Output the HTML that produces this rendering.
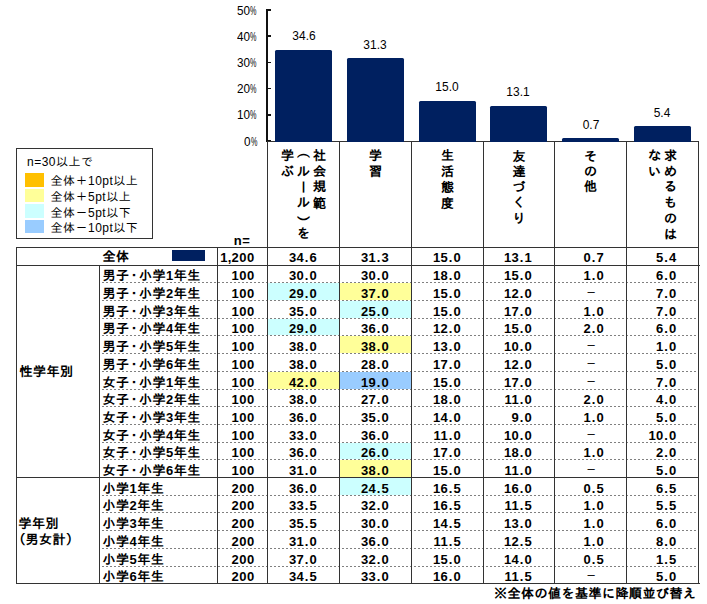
<!DOCTYPE html>
<html lang="ja"><head><meta charset="utf-8"><title>chart</title>
<style>
html,body{margin:0;padding:0;background:#fff;}
body{width:707px;height:604px;position:relative;overflow:hidden;font-family:"Liberation Sans", "IPAGothic", sans-serif;color:#000;}
body div, body span{position:absolute;}
span{white-space:nowrap;}
i{font-style:normal;position:static;}
.ax{font-family:"Liberation Sans", sans-serif;font-size:13.5px;line-height:15px;transform:scaleX(0.867);transform-origin:100% 50%;}
.pc{display:inline-block;transform:scaleX(0.62);transform-origin:0 50%;margin-right:-4.4px;}
.vl{font-family:"Liberation Sans", sans-serif;font-size:13px;line-height:15px;width:60px;text-align:center;transform:scaleX(0.92);}
.lg{font-size:12px;line-height:15px;letter-spacing:0.5px;}
.b13{font-size:13px;line-height:17px;font-weight:bold;letter-spacing:0.5px;}
.num{letter-spacing:0.5px;}
.pd{margin:0 0.5px;}
.cm{margin:0 -0.3px;}
.nd{margin:0 -2px;}
.lp{margin-left:-6px;margin-right:-0.5px;}
.vp1{position:relative;top:-4px;}
.vp2{position:relative;top:3.5px;}
.dsh{font-size:13px;line-height:17px;font-family:"Liberation Sans", sans-serif;}
.dl{height:1px;background-image:linear-gradient(to right,transparent 50%,#808080 50%);background-size:4px 1px;}
.vt{display:flex;justify-content:center;align-items:flex-start;}
.vt div{position:static;writing-mode:vertical-rl;font-size:13px;font-weight:bold;line-height:16px;letter-spacing:2.7px;}
</style></head><body>
<span class="ax" style="right:450.2px;top:2.50px">50<i class="pc">%</i></span>
<div style="left:266.00px;top:9.25px;width:5.00px;height:1.50px;background:#111;"></div>
<span class="ax" style="right:450.2px;top:28.70px">40<i class="pc">%</i></span>
<div style="left:266.00px;top:35.45px;width:5.00px;height:1.50px;background:#111;"></div>
<span class="ax" style="right:450.2px;top:54.90px">30<i class="pc">%</i></span>
<div style="left:266.00px;top:61.65px;width:5.00px;height:1.50px;background:#111;"></div>
<span class="ax" style="right:450.2px;top:81.10px">20<i class="pc">%</i></span>
<div style="left:266.00px;top:87.85px;width:5.00px;height:1.50px;background:#111;"></div>
<span class="ax" style="right:450.2px;top:107.30px">10<i class="pc">%</i></span>
<div style="left:266.00px;top:114.05px;width:5.00px;height:1.50px;background:#111;"></div>
<span class="ax" style="right:450.2px;top:133.50px">0<i class="pc">%</i></span>
<div style="left:266.00px;top:140.25px;width:5.00px;height:1.50px;background:#111;"></div>
<div style="left:266.00px;top:9.25px;width:1.50px;height:131.75px;background:#111;"></div>
<div style="left:275.40px;top:49.65px;width:56.80px;height:92.35px;background:#002060;border-radius:1.5px 1.5px 0 0;z-index:2"></div>
<span class="vl" style="left:273.80px;top:28.05px">34.6</span>
<div style="left:347.00px;top:58.29px;width:56.80px;height:83.71px;background:#002060;border-radius:1.5px 1.5px 0 0;z-index:2"></div>
<span class="vl" style="left:345.40px;top:36.69px">31.3</span>
<div style="left:419.00px;top:101.00px;width:56.80px;height:41.00px;background:#002060;border-radius:1.5px 1.5px 0 0;z-index:2"></div>
<span class="vl" style="left:417.40px;top:79.40px">15.0</span>
<div style="left:490.00px;top:105.98px;width:56.80px;height:36.02px;background:#002060;border-radius:1.5px 1.5px 0 0;z-index:2"></div>
<span class="vl" style="left:488.40px;top:84.38px">13.1</span>
<div style="left:562.20px;top:138.47px;width:56.80px;height:3.53px;background:#002060;border-radius:1.5px 1.5px 0 0;z-index:2"></div>
<span class="vl" style="left:560.60px;top:116.87px">0.7</span>
<div style="left:634.00px;top:126.15px;width:56.80px;height:15.85px;background:#002060;border-radius:1.5px 1.5px 0 0;z-index:2"></div>
<span class="vl" style="left:632.40px;top:104.55px">5.4</span>
<div class="vt" style="left:267px;top:148px;width:72px;height:99px"><div>社会規範<br><i class="vp1">（</i>ルール<i class="vp2">）</i>を<br>学ぶ</div></div>
<div class="vt" style="left:339px;top:148px;width:72px;height:99px"><div>学習</div></div>
<div class="vt" style="left:411px;top:148px;width:72px;height:99px"><div>生活態度</div></div>
<div class="vt" style="left:483px;top:148px;width:71px;height:99px"><div>友達づくり</div></div>
<div class="vt" style="left:554px;top:148px;width:72px;height:99px"><div>その他</div></div>
<div class="vt" style="left:626px;top:148px;width:72px;height:99px"><div>求めるものは<br>ない</div></div>
<div style="left:16px;top:148px;width:135px;height:89px;border:1px solid #333"></div>
<span class="lg" style="left:27px;top:154.5px">n=30以上で</span>
<div style="left:25.00px;top:173.20px;width:19.00px;height:13.60px;background:#FFC000;"></div>
<span class="lg" style="left:50.5px;top:174.40px">全体＋10pt以上</span>
<div style="left:25.00px;top:188.75px;width:19.00px;height:13.60px;background:#FFFF99;"></div>
<span class="lg" style="left:50.5px;top:189.95px">全体＋5pt以上</span>
<div style="left:25.00px;top:204.30px;width:19.00px;height:13.60px;background:#CCFFFF;"></div>
<span class="lg" style="left:50.5px;top:205.50px">全体－5pt以下</span>
<div style="left:25.00px;top:219.85px;width:19.00px;height:13.60px;background:#99CCFF;"></div>
<span class="lg" style="left:50.5px;top:221.05px">全体－10pt以下</span>
<span class="b13" style="left:233.80px;top:232.30px;">n=</span>
<span class="b13" style="left:102.50px;top:248.10px;">全体</span>
<span class="b13 num" style="right:452.20px;top:248.90px;">1<i class="cm">,</i>200</span>
<span class="b13 num" style="right:389.80px;top:248.90px;">34<i class="pd">.</i>6</span>
<span class="b13 num" style="right:317.80px;top:248.90px;">31<i class="pd">.</i>3</span>
<span class="b13 num" style="right:245.80px;top:248.90px;">15<i class="pd">.</i>0</span>
<span class="b13 num" style="right:174.80px;top:248.90px;">13<i class="pd">.</i>1</span>
<span class="b13 num" style="right:102.80px;top:248.90px;">0<i class="pd">.</i>7</span>
<span class="b13 num" style="right:30.30px;top:248.90px;">5<i class="pd">.</i>4</span>
<div style="left:172.00px;top:250.00px;width:33.00px;height:11.00px;background:#002060;"></div>
<span class="b13" style="left:102.50px;top:267.00px;">男子<i class="nd">・</i>小学1年生</span>
<span class="b13 num" style="right:452.20px;top:266.60px;">100</span>
<span class="b13 num" style="right:389.80px;top:266.60px;">30<i class="pd">.</i>0</span>
<span class="b13 num" style="right:317.80px;top:266.60px;">30<i class="pd">.</i>0</span>
<span class="b13 num" style="right:245.80px;top:266.60px;">18<i class="pd">.</i>0</span>
<span class="b13 num" style="right:174.80px;top:266.60px;">15<i class="pd">.</i>0</span>
<span class="b13 num" style="right:102.80px;top:266.60px;">1<i class="pd">.</i>0</span>
<span class="b13 num" style="right:30.30px;top:266.60px;">6<i class="pd">.</i>0</span>
<span class="b13" style="left:102.50px;top:285.00px;">男子<i class="nd">・</i>小学2年生</span>
<span class="b13 num" style="right:452.20px;top:284.60px;">100</span>
<div style="left:268.00px;top:283.00px;width:71.00px;height:17.00px;background:#CCFFFF;"></div>
<span class="b13 num" style="right:389.80px;top:284.60px;">29<i class="pd">.</i>0</span>
<div style="left:340.00px;top:283.00px;width:71.00px;height:17.00px;background:#FFFF99;"></div>
<span class="b13 num" style="right:317.80px;top:284.60px;">37<i class="pd">.</i>0</span>
<span class="b13 num" style="right:245.80px;top:284.60px;">15<i class="pd">.</i>0</span>
<span class="b13 num" style="right:174.80px;top:284.60px;">12<i class="pd">.</i>0</span>
<span class="dsh" style="right:112.20px;top:283.00px;">–</span>
<span class="b13 num" style="right:30.30px;top:284.60px;">7<i class="pd">.</i>0</span>
<span class="b13" style="left:102.50px;top:303.00px;">男子<i class="nd">・</i>小学3年生</span>
<span class="b13 num" style="right:452.20px;top:302.60px;">100</span>
<span class="b13 num" style="right:389.80px;top:302.60px;">35<i class="pd">.</i>0</span>
<div style="left:340.00px;top:301.00px;width:71.00px;height:17.00px;background:#CCFFFF;"></div>
<span class="b13 num" style="right:317.80px;top:302.60px;">25<i class="pd">.</i>0</span>
<span class="b13 num" style="right:245.80px;top:302.60px;">15<i class="pd">.</i>0</span>
<span class="b13 num" style="right:174.80px;top:302.60px;">17<i class="pd">.</i>0</span>
<span class="b13 num" style="right:102.80px;top:302.60px;">1<i class="pd">.</i>0</span>
<span class="b13 num" style="right:30.30px;top:302.60px;">7<i class="pd">.</i>0</span>
<span class="b13" style="left:102.50px;top:320.00px;">男子<i class="nd">・</i>小学4年生</span>
<span class="b13 num" style="right:452.20px;top:319.60px;">100</span>
<div style="left:268.00px;top:319.00px;width:71.00px;height:16.00px;background:#CCFFFF;"></div>
<span class="b13 num" style="right:389.80px;top:319.60px;">29<i class="pd">.</i>0</span>
<span class="b13 num" style="right:317.80px;top:319.60px;">36<i class="pd">.</i>0</span>
<span class="b13 num" style="right:245.80px;top:319.60px;">12<i class="pd">.</i>0</span>
<span class="b13 num" style="right:174.80px;top:319.60px;">15<i class="pd">.</i>0</span>
<span class="b13 num" style="right:102.80px;top:319.60px;">2<i class="pd">.</i>0</span>
<span class="b13 num" style="right:30.30px;top:319.60px;">6<i class="pd">.</i>0</span>
<span class="b13" style="left:102.50px;top:338.00px;">男子<i class="nd">・</i>小学5年生</span>
<span class="b13 num" style="right:452.20px;top:337.60px;">100</span>
<span class="b13 num" style="right:389.80px;top:337.60px;">38<i class="pd">.</i>0</span>
<div style="left:340.00px;top:336.00px;width:71.00px;height:17.00px;background:#FFFF99;"></div>
<span class="b13 num" style="right:317.80px;top:337.60px;">38<i class="pd">.</i>0</span>
<span class="b13 num" style="right:245.80px;top:337.60px;">13<i class="pd">.</i>0</span>
<span class="b13 num" style="right:174.80px;top:337.60px;">10<i class="pd">.</i>0</span>
<span class="dsh" style="right:112.20px;top:336.00px;">–</span>
<span class="b13 num" style="right:30.30px;top:337.60px;">1<i class="pd">.</i>0</span>
<span class="b13" style="left:102.50px;top:356.00px;">男子<i class="nd">・</i>小学6年生</span>
<span class="b13 num" style="right:452.20px;top:355.60px;">100</span>
<span class="b13 num" style="right:389.80px;top:355.60px;">38<i class="pd">.</i>0</span>
<span class="b13 num" style="right:317.80px;top:355.60px;">28<i class="pd">.</i>0</span>
<span class="b13 num" style="right:245.80px;top:355.60px;">17<i class="pd">.</i>0</span>
<span class="b13 num" style="right:174.80px;top:355.60px;">12<i class="pd">.</i>0</span>
<span class="dsh" style="right:112.20px;top:354.00px;">–</span>
<span class="b13 num" style="right:30.30px;top:355.60px;">5<i class="pd">.</i>0</span>
<span class="b13" style="left:102.50px;top:374.00px;">女子<i class="nd">・</i>小学1年生</span>
<span class="b13 num" style="right:452.20px;top:373.60px;">100</span>
<div style="left:268.00px;top:372.00px;width:71.00px;height:17.00px;background:#FFFF99;"></div>
<span class="b13 num" style="right:389.80px;top:373.60px;">42<i class="pd">.</i>0</span>
<div style="left:340.00px;top:372.00px;width:71.00px;height:17.00px;background:#99CCFF;"></div>
<span class="b13 num" style="right:317.80px;top:373.60px;">19<i class="pd">.</i>0</span>
<span class="b13 num" style="right:245.80px;top:373.60px;">15<i class="pd">.</i>0</span>
<span class="b13 num" style="right:174.80px;top:373.60px;">17<i class="pd">.</i>0</span>
<span class="dsh" style="right:112.20px;top:372.00px;">–</span>
<span class="b13 num" style="right:30.30px;top:373.60px;">7<i class="pd">.</i>0</span>
<span class="b13" style="left:102.50px;top:391.00px;">女子<i class="nd">・</i>小学2年生</span>
<span class="b13 num" style="right:452.20px;top:390.60px;">100</span>
<span class="b13 num" style="right:389.80px;top:390.60px;">38<i class="pd">.</i>0</span>
<span class="b13 num" style="right:317.80px;top:390.60px;">27<i class="pd">.</i>0</span>
<span class="b13 num" style="right:245.80px;top:390.60px;">18<i class="pd">.</i>0</span>
<span class="b13 num" style="right:174.80px;top:390.60px;">11<i class="pd">.</i>0</span>
<span class="b13 num" style="right:102.80px;top:390.60px;">2<i class="pd">.</i>0</span>
<span class="b13 num" style="right:30.30px;top:390.60px;">4<i class="pd">.</i>0</span>
<span class="b13" style="left:102.50px;top:409.00px;">女子<i class="nd">・</i>小学3年生</span>
<span class="b13 num" style="right:452.20px;top:408.60px;">100</span>
<span class="b13 num" style="right:389.80px;top:408.60px;">36<i class="pd">.</i>0</span>
<span class="b13 num" style="right:317.80px;top:408.60px;">35<i class="pd">.</i>0</span>
<span class="b13 num" style="right:245.80px;top:408.60px;">14<i class="pd">.</i>0</span>
<span class="b13 num" style="right:174.80px;top:408.60px;">9<i class="pd">.</i>0</span>
<span class="b13 num" style="right:102.80px;top:408.60px;">1<i class="pd">.</i>0</span>
<span class="b13 num" style="right:30.30px;top:408.60px;">5<i class="pd">.</i>0</span>
<span class="b13" style="left:102.50px;top:427.00px;">女子<i class="nd">・</i>小学4年生</span>
<span class="b13 num" style="right:452.20px;top:426.60px;">100</span>
<span class="b13 num" style="right:389.80px;top:426.60px;">33<i class="pd">.</i>0</span>
<span class="b13 num" style="right:317.80px;top:426.60px;">36<i class="pd">.</i>0</span>
<span class="b13 num" style="right:245.80px;top:426.60px;">11<i class="pd">.</i>0</span>
<span class="b13 num" style="right:174.80px;top:426.60px;">10<i class="pd">.</i>0</span>
<span class="dsh" style="right:112.20px;top:425.00px;">–</span>
<span class="b13 num" style="right:30.30px;top:426.60px;">10<i class="pd">.</i>0</span>
<span class="b13" style="left:102.50px;top:444.00px;">女子<i class="nd">・</i>小学5年生</span>
<span class="b13 num" style="right:452.20px;top:443.60px;">100</span>
<span class="b13 num" style="right:389.80px;top:443.60px;">36<i class="pd">.</i>0</span>
<div style="left:340.00px;top:443.00px;width:71.00px;height:16.00px;background:#CCFFFF;"></div>
<span class="b13 num" style="right:317.80px;top:443.60px;">26<i class="pd">.</i>0</span>
<span class="b13 num" style="right:245.80px;top:443.60px;">17<i class="pd">.</i>0</span>
<span class="b13 num" style="right:174.80px;top:443.60px;">18<i class="pd">.</i>0</span>
<span class="b13 num" style="right:102.80px;top:443.60px;">1<i class="pd">.</i>0</span>
<span class="b13 num" style="right:30.30px;top:443.60px;">2<i class="pd">.</i>0</span>
<span class="b13" style="left:102.50px;top:462.00px;">女子<i class="nd">・</i>小学6年生</span>
<span class="b13 num" style="right:452.20px;top:461.60px;">100</span>
<span class="b13 num" style="right:389.80px;top:461.60px;">31<i class="pd">.</i>0</span>
<div style="left:340.00px;top:460.00px;width:71.00px;height:17.00px;background:#FFFF99;"></div>
<span class="b13 num" style="right:317.80px;top:461.60px;">38<i class="pd">.</i>0</span>
<span class="b13 num" style="right:245.80px;top:461.60px;">15<i class="pd">.</i>0</span>
<span class="b13 num" style="right:174.80px;top:461.60px;">11<i class="pd">.</i>0</span>
<span class="dsh" style="right:112.20px;top:460.00px;">–</span>
<span class="b13 num" style="right:30.30px;top:461.60px;">5<i class="pd">.</i>0</span>
<span class="b13" style="left:102.50px;top:480.00px;">小学1年生</span>
<span class="b13 num" style="right:452.20px;top:479.60px;">200</span>
<span class="b13 num" style="right:389.80px;top:479.60px;">36<i class="pd">.</i>0</span>
<div style="left:340.00px;top:478.00px;width:71.00px;height:17.00px;background:#CCFFFF;"></div>
<span class="b13 num" style="right:317.80px;top:479.60px;">24<i class="pd">.</i>5</span>
<span class="b13 num" style="right:245.80px;top:479.60px;">16<i class="pd">.</i>5</span>
<span class="b13 num" style="right:174.80px;top:479.60px;">16<i class="pd">.</i>0</span>
<span class="b13 num" style="right:102.80px;top:479.60px;">0<i class="pd">.</i>5</span>
<span class="b13 num" style="right:30.30px;top:479.60px;">6<i class="pd">.</i>5</span>
<span class="b13" style="left:102.50px;top:497.00px;">小学2年生</span>
<span class="b13 num" style="right:452.20px;top:496.60px;">200</span>
<span class="b13 num" style="right:389.80px;top:496.60px;">33<i class="pd">.</i>5</span>
<span class="b13 num" style="right:317.80px;top:496.60px;">32<i class="pd">.</i>0</span>
<span class="b13 num" style="right:245.80px;top:496.60px;">16<i class="pd">.</i>5</span>
<span class="b13 num" style="right:174.80px;top:496.60px;">11<i class="pd">.</i>5</span>
<span class="b13 num" style="right:102.80px;top:496.60px;">1<i class="pd">.</i>0</span>
<span class="b13 num" style="right:30.30px;top:496.60px;">5<i class="pd">.</i>5</span>
<span class="b13" style="left:102.50px;top:515.00px;">小学3年生</span>
<span class="b13 num" style="right:452.20px;top:514.60px;">200</span>
<span class="b13 num" style="right:389.80px;top:514.60px;">35<i class="pd">.</i>5</span>
<span class="b13 num" style="right:317.80px;top:514.60px;">30<i class="pd">.</i>0</span>
<span class="b13 num" style="right:245.80px;top:514.60px;">14<i class="pd">.</i>5</span>
<span class="b13 num" style="right:174.80px;top:514.60px;">13<i class="pd">.</i>0</span>
<span class="b13 num" style="right:102.80px;top:514.60px;">1<i class="pd">.</i>0</span>
<span class="b13 num" style="right:30.30px;top:514.60px;">6<i class="pd">.</i>0</span>
<span class="b13" style="left:102.50px;top:533.00px;">小学4年生</span>
<span class="b13 num" style="right:452.20px;top:532.60px;">200</span>
<span class="b13 num" style="right:389.80px;top:532.60px;">31<i class="pd">.</i>0</span>
<span class="b13 num" style="right:317.80px;top:532.60px;">36<i class="pd">.</i>0</span>
<span class="b13 num" style="right:245.80px;top:532.60px;">11<i class="pd">.</i>5</span>
<span class="b13 num" style="right:174.80px;top:532.60px;">12<i class="pd">.</i>5</span>
<span class="b13 num" style="right:102.80px;top:532.60px;">1<i class="pd">.</i>0</span>
<span class="b13 num" style="right:30.30px;top:532.60px;">8<i class="pd">.</i>0</span>
<span class="b13" style="left:102.50px;top:551.00px;">小学5年生</span>
<span class="b13 num" style="right:452.20px;top:550.60px;">200</span>
<span class="b13 num" style="right:389.80px;top:550.60px;">37<i class="pd">.</i>0</span>
<span class="b13 num" style="right:317.80px;top:550.60px;">32<i class="pd">.</i>0</span>
<span class="b13 num" style="right:245.80px;top:550.60px;">15<i class="pd">.</i>0</span>
<span class="b13 num" style="right:174.80px;top:550.60px;">14<i class="pd">.</i>0</span>
<span class="b13 num" style="right:102.80px;top:550.60px;">0<i class="pd">.</i>5</span>
<span class="b13 num" style="right:30.30px;top:550.60px;">1<i class="pd">.</i>5</span>
<span class="b13" style="left:102.50px;top:568.00px;">小学6年生</span>
<span class="b13 num" style="right:452.20px;top:567.60px;">200</span>
<span class="b13 num" style="right:389.80px;top:567.60px;">34<i class="pd">.</i>5</span>
<span class="b13 num" style="right:317.80px;top:567.60px;">33<i class="pd">.</i>0</span>
<span class="b13 num" style="right:245.80px;top:567.60px;">16<i class="pd">.</i>0</span>
<span class="b13 num" style="right:174.80px;top:567.60px;">11<i class="pd">.</i>5</span>
<span class="dsh" style="right:112.20px;top:566.00px;">–</span>
<span class="b13 num" style="right:30.30px;top:567.60px;">5<i class="pd">.</i>0</span>
<div class="dl" style="left:100px;top:282.00px;width:598px"></div>
<div class="dl" style="left:100px;top:300.00px;width:598px"></div>
<div class="dl" style="left:100px;top:318.00px;width:598px"></div>
<div class="dl" style="left:100px;top:335.00px;width:598px"></div>
<div class="dl" style="left:100px;top:353.00px;width:598px"></div>
<div class="dl" style="left:100px;top:371.00px;width:598px"></div>
<div class="dl" style="left:100px;top:389.00px;width:598px"></div>
<div class="dl" style="left:100px;top:406.00px;width:598px"></div>
<div class="dl" style="left:100px;top:424.00px;width:598px"></div>
<div class="dl" style="left:100px;top:442.00px;width:598px"></div>
<div class="dl" style="left:100px;top:459.00px;width:598px"></div>
<div class="dl" style="left:100px;top:495.00px;width:598px"></div>
<div class="dl" style="left:100px;top:512.00px;width:598px"></div>
<div class="dl" style="left:100px;top:530.00px;width:598px"></div>
<div class="dl" style="left:100px;top:548.00px;width:598px"></div>
<div class="dl" style="left:100px;top:566.00px;width:598px"></div>
<span class="b13" style="left:19.50px;top:362.50px;">性学年別</span>
<span class="b13" style="left:18.50px;top:514.80px;">学年別</span>
<span class="b13" style="left:18.50px;top:530.50px;"><i class="lp">（</i>男女計）</span>
<div style="left:267.00px;top:141.00px;width:432.00px;height:1.00px;background:#333;"></div>
<div style="left:16.00px;top:247.00px;width:683.00px;height:1.00px;background:#333;"></div>
<div style="left:16.00px;top:265.00px;width:684.00px;height:1.00px;background:#333;"></div>
<div style="left:16.00px;top:477.00px;width:683.00px;height:1.00px;background:#333;"></div>
<div style="left:16.00px;top:583.00px;width:684.00px;height:1.00px;background:#333;"></div>
<div style="left:16.00px;top:247.00px;width:1.00px;height:337.00px;background:#333;"></div>
<div style="left:99.00px;top:265.00px;width:1.00px;height:319.00px;background:#333;"></div>
<div style="left:217.00px;top:247.00px;width:1.00px;height:337.00px;background:#333;"></div>
<div style="left:267.00px;top:141.00px;width:1.00px;height:443.00px;background:#333;"></div>
<div style="left:339.00px;top:141.00px;width:1.00px;height:443.00px;background:#333;"></div>
<div style="left:411.00px;top:141.00px;width:1.00px;height:443.00px;background:#333;"></div>
<div style="left:483.00px;top:141.00px;width:1.00px;height:443.00px;background:#333;"></div>
<div style="left:554.00px;top:141.00px;width:1.00px;height:443.00px;background:#333;"></div>
<div style="left:626.00px;top:141.00px;width:1.00px;height:443.00px;background:#333;"></div>
<div style="left:698.00px;top:141.00px;width:1.00px;height:443.00px;background:#333;"></div>
<span class="b13" style="right:10.50px;top:584.50px;">※全体の値を基準に降順並び替え</span>
</body></html>
